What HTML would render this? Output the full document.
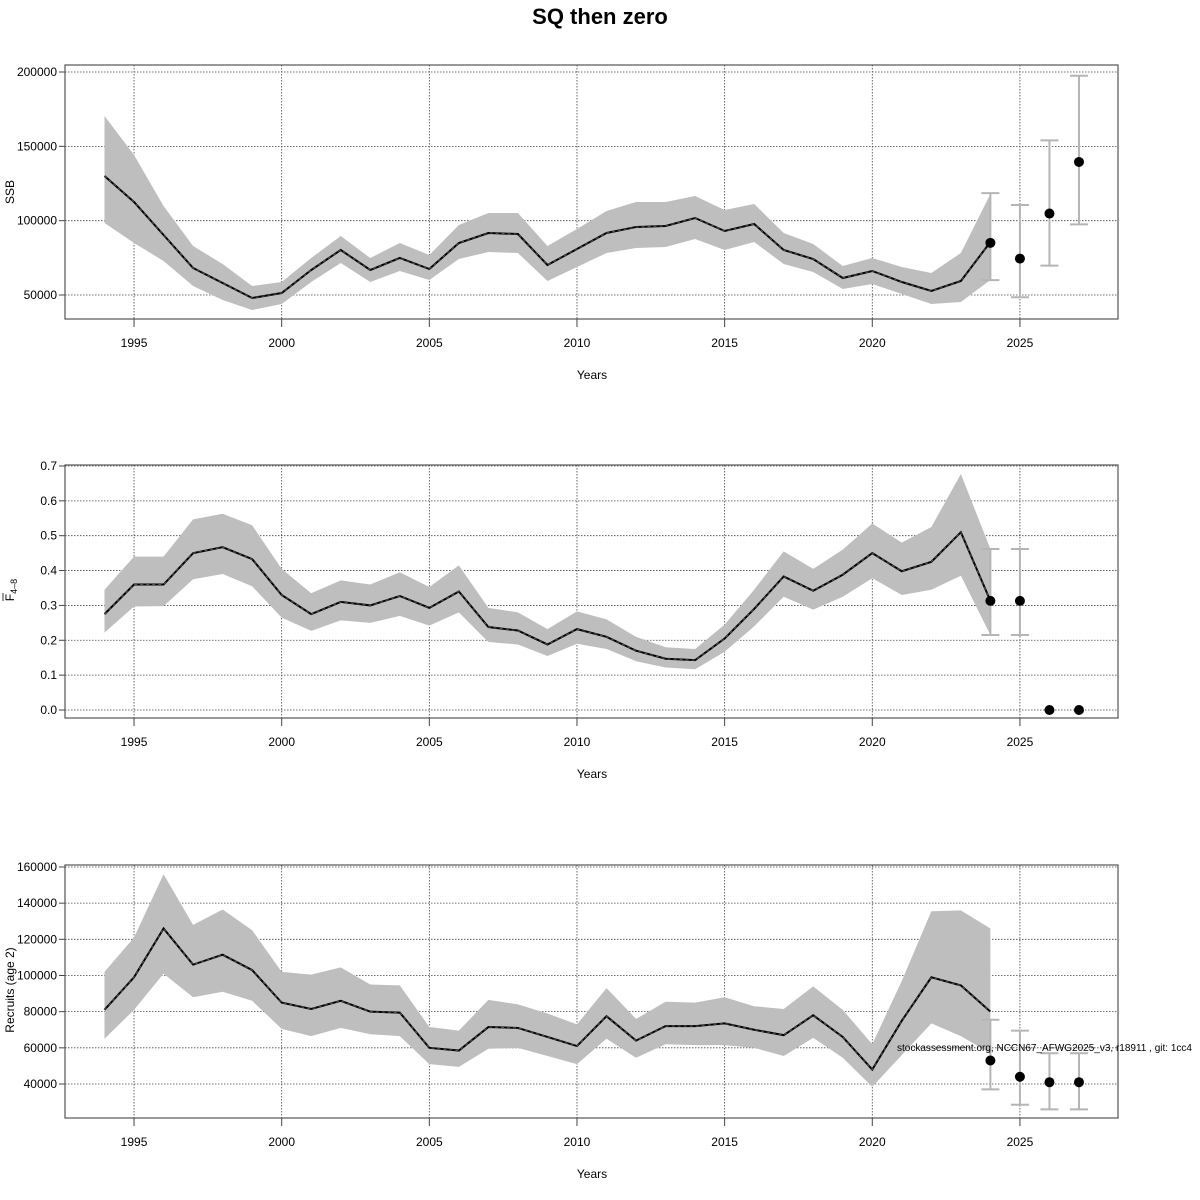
<!DOCTYPE html>
<html><head><meta charset="utf-8"><style>
html,body{margin:0;padding:0;background:#fff;}
svg{display:block;font-family:"Liberation Sans",sans-serif;}
</style></head><body>
<svg id="s" width="1200" height="1200" xmlns="http://www.w3.org/2000/svg">
<text x="600" y="24" text-anchor="middle" font-size="22" font-weight="bold">SQ then zero</text>
</svg>
<script>
const S=document.getElementById('s');let h='';
const X=y=>104.5+(y-1994)*29.53;
const L=65,R=1118;
function panel(top,bot,ticks,fy,ylab,mid,up,lo,pts){
  // grid
  for(const t of ticks){const y=fy(t.v);
    h+=`<line x1="${L}" x2="${R}" y1="${y}" y2="${y}" stroke="#444" stroke-width="0.8" stroke-dasharray="1.5,1.5"/>`;
    h+=`<line x1="${L-6}" x2="${L}" y1="${y}" y2="${y}" stroke="#444"/>`;
    h+=`<text x="${L-8}" y="${y+4}" text-anchor="end" font-size="12">${t.l}</text>`;}
  for(let yr=1995;yr<=2025;yr+=5){const x=X(yr);
    h+=`<line x1="${x}" x2="${x}" y1="${top}" y2="${bot}" stroke="#444" stroke-width="0.8" stroke-dasharray="1.5,1.5"/>`;
    h+=`<line x1="${x}" x2="${x}" y1="${bot}" y2="${bot+8}" stroke="#444"/>`;
    h+=`<text x="${x}" y="${bot+28}" text-anchor="middle" font-size="12">${yr}</text>`;}
  h+=`<text x="592" y="${bot+60}" text-anchor="middle" font-size="12">Years</text>`;
  let p='';for(let i=0;i<up.length;i++)p+=X(1994+i)+','+fy(up[i])+' ';
  for(let i=lo.length-1;i>=0;i--)p+=X(1994+i)+','+fy(lo[i])+' ';
  h+=`<polygon points="${p}" fill="#bebebe"/>`;
  let m='';for(let i=0;i<mid.length;i++)m+=X(1994+i)+','+fy(mid[i])+' ';
  h+=`<polyline points="${m}" fill="none" stroke="#000" stroke-width="2"/>`;
  h+=`<polyline points="${m}" fill="none" stroke="#555" stroke-width="1" stroke-dasharray="3,3"/>`;
  for(const q of pts){const x=X(q[0]);
    if(q[2]!=null){h+=`<g stroke="#b5b5b5" stroke-width="2"><line x1="${x}" x2="${x}" y1="${fy(q[2])}" y2="${fy(q[3])}"/><line x1="${x-9}" x2="${x+9}" y1="${fy(q[2])}" y2="${fy(q[2])}"/><line x1="${x-9}" x2="${x+9}" y1="${fy(q[3])}" y2="${fy(q[3])}"/></g>`;}
    h+=`<circle cx="${x}" cy="${fy(q[1])}" r="5" fill="#000"/>`;}
  h+=`<rect x="${L}" y="${top}" width="${R-L}" height="${bot-top}" fill="none" stroke="#555" stroke-width="1.2"/>`;
  h+=ylab;
}
// Panel 1 (pixel data)
const id=v=>v;
const m1=[176,202,235,268,283,298,293,270,250,270,258,269,243,233,234,265,249,233,227,226,218,231,224,250,259,278,271,282,291,281,242];
const u1=[116,155,206,246,264,286,282,258,236,258,243,255,225,213,213,246,229,211,202,202,196,210,204,233,244,266,258,267,273,253,194];
const l1=[223,243,261,286,300,310,304,282,263,282,271,280,259,252,253,281,267,253,248,247,239,250,242,264,272,289,284,294,304,302,280];
const f1=v=>295-(v-50000)/50000*74.33;
const P1=v=>v; 
panel(65,319,[{v:50000,l:'50000'},{v:100000,l:'100000'},{v:150000,l:'150000'},{v:200000,l:'200000'}],f1,
 `<text transform="translate(14,192) rotate(-90)" text-anchor="middle" font-size="12">SSB</text>`,
 m1.map(y=>50000+(295-y)/74.33*50000),u1.map(y=>50000+(295-y)/74.33*50000),l1.map(y=>50000+(295-y)/74.33*50000),
 [[2024,85100,118500,60000],[2025,74500,110500,48500],[2026,104800,154000,69800],[2027,139500,197500,97500]]);
// Panel 2
const f2=v=>710-v*348.6;
const m2=[.275,.36,.36,.45,.467,.433,.33,.275,.31,.30,.327,.293,.34,.238,.228,.188,.232,.21,.17,.147,.143,.205,.29,.383,.342,.388,.45,.398,.425,.51,.313];
const u2=[.345,.44,.44,.547,.563,.53,.405,.335,.372,.36,.395,.353,.415,.293,.28,.232,.283,.26,.21,.18,.175,.245,.345,.455,.405,.46,.535,.48,.525,.677,.462];
const l2=[.222,.297,.298,.375,.39,.355,.265,.227,.257,.25,.27,.242,.28,.195,.188,.155,.19,.175,.14,.122,.117,.167,.24,.325,.288,.325,.378,.33,.345,.385,.215];
panel(465,718,[0,.1,.2,.3,.4,.5,.6,.7].map(v=>({v:v,l:v.toFixed(1)})),f2,
 `<g transform="translate(14,590) rotate(-90)"><text text-anchor="middle" font-size="12">F<tspan font-size="9" dy="3">4–8</tspan></text><line x1="-11" x2="-3" y1="-11" y2="-11" stroke="#000" stroke-width="0.8"/></g>`,
 m2,u2,l2,[[2024,.313,.462,.215],[2025,.313,.462,.215],[2026,0,null,null],[2027,0,null,null]]);
// Panel 3
const f3=v=>1084-(v-40)/20*36.17;
const m3=[81,99,126,106,111.5,103,85,81.5,86,80,79.5,60,58.5,71.5,71,66,61,77.5,64,72,72,73.5,70,67,78,66,48,75,99,94.5,80];
const u3=[102,121,156,128,136.5,125,102,100.5,104.5,95,94.5,71.5,69.5,86.5,84,79,73,93,76,85.5,85,88,83,81.5,94,81,62,97,135.5,136,126];
const l3=[65,81,101,88,91,86,70.5,66.5,71,67.5,66.5,51,49.5,59.5,60,55.5,51,65,54.5,62,61.5,61.5,60,55.5,65.5,54.5,38.5,56,73.5,66.5,57];
panel(865,1118,[40,60,80,100,120,140,160].map(v=>({v:v,l:(v*1000)+''})),f3,
 `<text transform="translate(14,990) rotate(-90)" text-anchor="middle" font-size="12">Recruits (age 2)</text>`,
 m3,u3,l3,[[2024,53,75.5,37],[2025,44,69.5,28.5],[2026,41,57,26],[2027,41,57,26]]);
h+=`<text x="897" y="1051" font-size="10">stockassessment.org, NCCN67_AFWG2025_v3, r18911 , git: 1cc4</text>`;
S.innerHTML+=h;
</script>
</body></html>
